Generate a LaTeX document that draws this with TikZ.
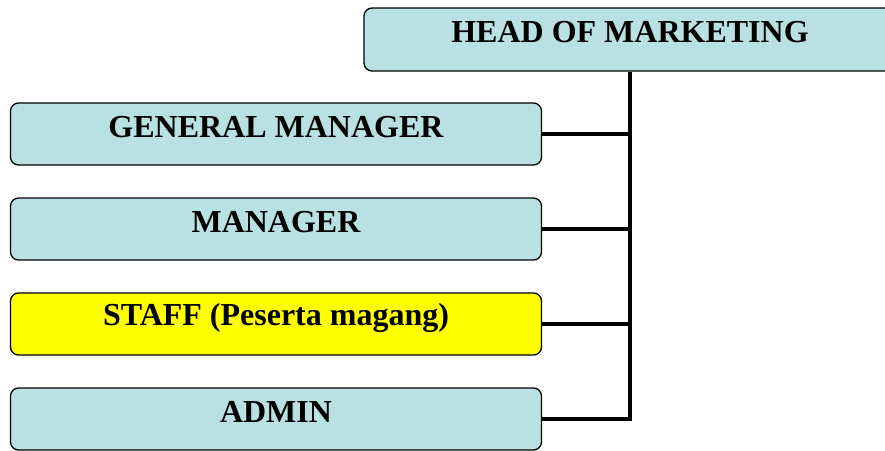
\documentclass[tikz,border=0pt]{standalone}
\usepackage{fontspec}
\setmainfont{Liberation Serif}
\definecolor{boxblue}{HTML}{B9E0E3}
\definecolor{boxyellow}{HTML}{FFFF00}
\begin{document}
\begin{tikzpicture}[x=1pt,y=-1pt,
  box/.style={draw=black, line width=1.3pt, rounded corners=8pt, fill=boxblue, inner sep=0pt},
  lbl/.style={font=\fontsize{32}{36}\selectfont\bfseries, inner sep=0pt},
  conn/.style={line width=4.5pt}]
\clip (0,0) rectangle (885,450);
\useasboundingbox (0,0) rectangle (885,450);
% head
\node[box, minimum width=531, minimum height=63] (head) at (629.5,39.5) {};
\node[lbl] (headt) at (630,32) {HEAD OF MARKETING};
% boxes
\node[box, minimum width=531, minimum height=62] (gm) at (276,134) {};
\node[lbl] (gmt) at (276,127) {GENERAL MANAGER};
\node[box, minimum width=531, minimum height=62] (mg) at (276,229) {};
\node[lbl] (mgt) at (276,222) {MANAGER};
\node[box, fill=boxyellow, minimum width=531, minimum height=62] (st) at (276,324) {};
\node[lbl] (stt) at (276,318) {STAFF (Peserta magang)};
\node[box, minimum width=531, minimum height=62] (ad) at (276,419) {};
\node[lbl] (adt) at (276,412) {ADMIN};
% connectors
\coordinate (jad) at (630,419);
\draw[conn] (head.south -| jad) -- (jad) -- (ad.east);
\draw[conn] (gm.east) -- (gm.east -| jad);
\draw[conn] (mg.east) -- (mg.east -| jad);
\draw[conn] (st.east) -- (st.east -| jad);
\end{tikzpicture}
\end{document}
